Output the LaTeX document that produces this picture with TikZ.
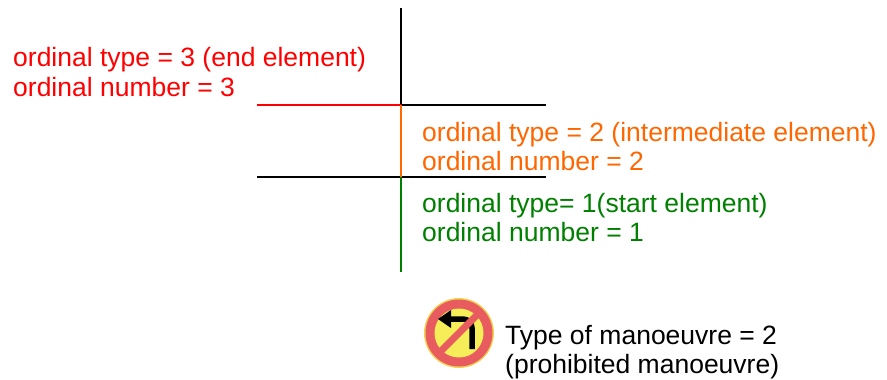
\documentclass[tikz,border=0pt]{standalone}
\usepackage{fontspec}
\setmainfont{Liberation Sans}
\usetikzlibrary{positioning}

\definecolor{endred}{RGB}{255,0,0}
\definecolor{midorange}{RGB}{255,102,0}
\definecolor{startgreen}{RGB}{0,128,0}
\definecolor{signring}{RGB}{232,92,96}
\definecolor{signyellow}{RGB}{246,238,88}
\definecolor{signedge}{RGB}{240,210,80}

\begin{document}
\begin{tikzpicture}[x=1pt, y=-1pt]
    \tikzset{
        label/.style={
            inner sep=0pt,
            anchor=base west,
            font=\fontsize{26.5}{30}\selectfont
        },
        link/.style={
            line width=1.5pt
        }
    }

    \useasboundingbox (0,0) rectangle (887,380);

    \coordinate (top) at (401,8);
    \coordinate (joint3) at (401,105);
    \coordinate (joint2) at (401,177);
    \coordinate (bottom) at (401,272);
    \coordinate (left3) at (257,105);
    \coordinate (right3) at (546,105);
    \coordinate (left2) at (257,177);
    \coordinate (right2) at (546,177);

    \draw[link, black] (top) -- (joint3);
    \draw[link, endred] (left3) -- (joint3);
    \draw[link, black] (joint3) -- (right3);
    \draw[link, black] (left2) -- (right2);
    \draw[link, midorange] (joint3) -- (joint2);
    \draw[link, startgreen] (joint2) -- (bottom);

    \node[label, text=endred] (endtype) at (13,66) {ordinal type = 3 (end element)};
    \node[label, text=endred] (endnum) at (13,96) {ordinal number = 3};

    \node[label, text=midorange] (midtype) at (422,141) {ordinal type = 2 (intermediate element)};
    \node[label, text=midorange] (midnum) at (422,170) {ordinal number = 2};

    \node[label, text=startgreen] (starttype) at (422,212) {ordinal type= 1(start element)};
    \node[label, text=startgreen] (startnum) at (422,241) {ordinal number = 1};

    % prohibited turn sign
    \coordinate (sign) at (459,333);
    \fill[signedge] (sign) circle (35);
    \fill[signring] (sign) circle (33.5);
    \fill[signyellow] (sign) circle (24.5);
    \draw[line width=5.5pt, black] (sign) ++(13,16) -- ++(0,-21) arc[start angle=0, end angle=-90, radius=9] -- ++(-12,0);
    \fill[black] (sign) ++(-21,-14) -- ++(13,-9) -- ++(0,18) -- cycle;
    \draw[line width=7pt, signring] (sign) ++(19,-19) -- ++(-38,38);

    \node[label, text=black] (mantype) at (505,344) {Type of manoeuvre = 2};
    \node[label, text=black] (mannote) at (505,373) {(prohibited manoeuvre)};

\end{tikzpicture}
\end{document}
